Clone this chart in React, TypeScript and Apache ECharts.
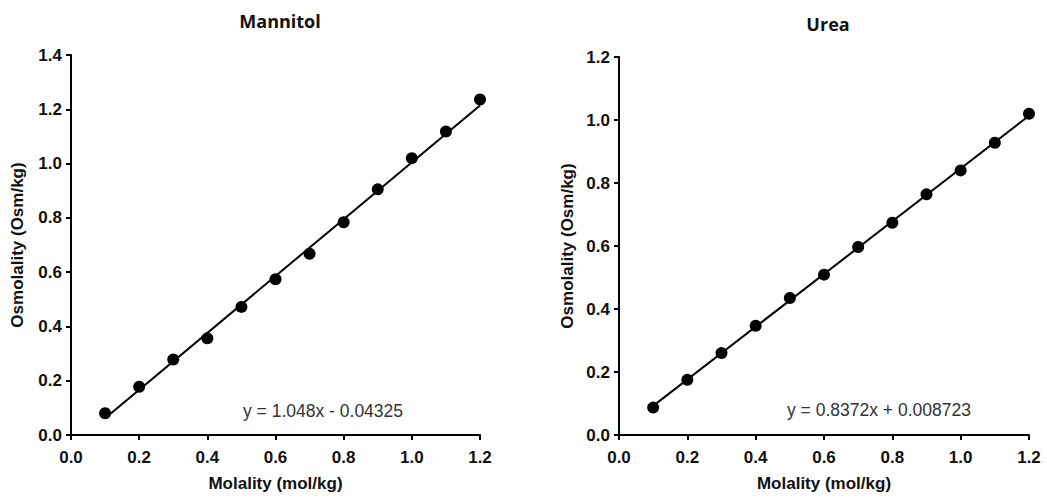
import React, { useEffect, useRef } from "react";
import * as echarts from "echarts";

const molality = [0.1, 0.2, 0.3, 0.4, 0.5, 0.6, 0.7, 0.8, 0.9, 1.0, 1.1, 1.2];
const mannitolOsm = [0.08, 0.178, 0.278, 0.356, 0.472, 0.574, 0.668, 0.784, 0.905, 1.02, 1.118, 1.236];
const ureaOsm = [0.087, 0.175, 0.26, 0.347, 0.435, 0.509, 0.597, 0.674, 0.764, 0.84, 0.928, 1.02];
const mannitolFitX = [0.1, 1.2];
const mannitolFitY = [0.0615, 1.2143];
const ureaFitX = [0.1, 1.2];
const ureaFitY = [0.0924, 1.0134];
const titles = ["Mannitol", "Urea"];
const equations = ["y = 1.048x - 0.04325", "y = 0.8372x + 0.008723"];
const xTicks = { min: 0, max: 1.2, interval: 0.2 };
const yMaxes = [1.4, 1.2];

const FONT = "'Liberation Sans', Arial, sans-serif";

export default function App() {
  const ref = useRef<HTMLDivElement>(null);
  useEffect(() => {
    if (!ref.current) return;
    const chart = echarts.init(ref.current, null, { renderer: "svg" });
    const grids = [
      { left: 71, top: 55, width: 409, height: 380 },
      { left: 619, top: 57, width: 410, height: 378 },
    ];
    const axisCommon = {
      axisLine: { show: true, lineStyle: { color: "#000", width: 2 } },
      axisTick: { show: true, length: 5, lineStyle: { color: "#000", width: 2 } },
      splitLine: { show: false },
      axisLabel: {
        color: "#111",
        fontFamily: FONT,
        fontWeight: "bold",
        fontSize: 17,
        formatter: (v: number) => v.toFixed(1),
      },
      nameTextStyle: { color: "#111", fontFamily: FONT, fontWeight: "bold", fontSize: 17 },
    };
    const xAxis = [0, 1].map((i) => ({
      type: "value",
      gridIndex: i,
      min: xTicks.min,
      max: xTicks.max,
      interval: xTicks.interval,
      name: "Molality (mol/kg)",
      nameLocation: "middle",
      nameGap: 40,
      ...axisCommon,
      axisLabel: { ...axisCommon.axisLabel, margin: 14 },
    }));
    const yAxis = [0, 1].map((i) => ({
      type: "value",
      gridIndex: i,
      min: 0,
      max: yMaxes[i],
      interval: 0.2,
      name: "Osmolality (Osm/kg)",
      nameLocation: "middle",
      nameGap: i === 0 ? 45 : 43,
      ...axisCommon,
      axisLabel: { ...axisCommon.axisLabel, margin: 9 },
    }));
    const scatter = (i: number, ys: number[]) => ({
      type: "scatter",
      xAxisIndex: i,
      yAxisIndex: i,
      symbol: "circle",
      symbolSize: 12,
      itemStyle: { color: "#000", opacity: 1 },
      data: molality.map((x, k) => [x, ys[k]]),
      z: 3,
    });
    const fit = (i: number, xs: number[], ys: number[]) => ({
      type: "line",
      xAxisIndex: i,
      yAxisIndex: i,
      showSymbol: false,
      symbol: "none",
      lineStyle: { color: "#000", width: 2 },
      data: xs.map((x, k) => [x, ys[k]]),
      z: 2,
    });
    const titleStyle = { fontFamily: "'Open Sans', sans-serif", fontWeight: "bold", fontSize: 18, color: "#111" };
    chart.setOption({
      animation: false,
      backgroundColor: "#fff",
      title: [
        { text: titles[0], left: 275, top: 7, textAlign: "center", textStyle: titleStyle },
        { text: titles[1], left: 823, top: 10, textAlign: "center", textStyle: titleStyle },
      ],
      grid: grids,
      xAxis,
      yAxis,
      series: [
        fit(0, mannitolFitX, mannitolFitY),
        scatter(0, mannitolOsm),
        fit(1, ureaFitX, ureaFitY),
        scatter(1, ureaOsm),
      ],
      graphic: [
        {
          type: "text",
          left: 243,
          top: 402,
          style: { text: equations[0], fontFamily: FONT, fontSize: 17.5, fill: "#333" },
        },
        {
          type: "text",
          left: 787,
          top: 401,
          style: { text: equations[1], fontFamily: FONT, fontSize: 17.5, fill: "#333" },
        },
      ],
    });
    return () => chart.dispose();
  }, []);
  return (
    <div
      ref={ref}
      style={{ position: "fixed", left: 0, top: 0, width: 1047, height: 498, background: "#fff" }}
    />
  );
}
